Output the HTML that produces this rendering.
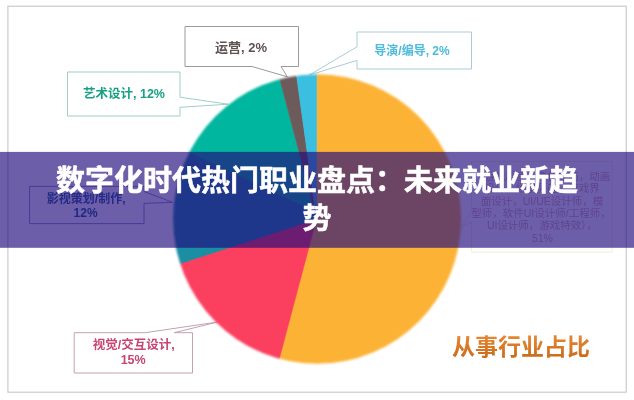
<!DOCTYPE html>
<html><head><meta charset="utf-8"><title>chart</title>
<style>html,body{margin:0;padding:0;background:#fff;font-family:"Liberation Sans",sans-serif}body{width:634px;height:400px;overflow:hidden}svg{display:block}.wrap{position:relative;width:634px;height:400px;overflow:hidden}svg text{font-family:"Liberation Sans","Noto Sans CJK SC",sans-serif}</style>
</head><body><div class="wrap"><svg width="634" height="400" viewBox="0 0 634 400"><defs><filter id="b1" x="-5%" y="-5%" width="110%" height="110%"><feGaussianBlur stdDeviation="0.6"/></filter><filter id="b2" x="-5%" y="-20%" width="110%" height="140%"><feGaussianBlur stdDeviation="0.45"/></filter><linearGradient id="og" x1="0" y1="0" x2="0" y2="1"><stop offset="0" stop-color="#e88a35"/><stop offset="1" stop-color="#c8691a"/></linearGradient><filter id="b3" x="-5%" y="-5%" width="110%" height="110%"><feGaussianBlur stdDeviation="1.1"/></filter><mask id="pm" maskUnits="userSpaceOnUse" x="0" y="0" width="634" height="400"><ellipse cx="317.1" cy="219.0" rx="144.0" ry="144.8" fill="#fff" filter="url(#b3)"/></mask></defs><rect width="634" height="400" fill="#fff"/><rect x="7.9" y="6.2" width="618.3" height="386" fill="none" stroke="#c6c6c6" stroke-width="1.1" filter="url(#b2)"/><g filter="url(#b2)"><path d="M185.0 26.5L298.5 26.5L298.5 66.5L281.0 66.5L287.3 76.8L252.0 66.5L185.0 66.5Z" fill="#fff" stroke="#9a9a9a" stroke-width="1" stroke-linejoin="miter"/><path d="M357.0 32.0L471.5 32.0L471.5 69.0L357.0 69.0L357.0 60.4L309.0 75.2L357.0 46.8Z" fill="#fff" stroke="#a9cbd8" stroke-width="1" stroke-linejoin="miter"/><path d="M67.5 72.0L180.0 72.0L180.0 97.2L228.2 104.2L180.0 107.3L180.0 116.0L67.5 116.0Z" fill="#fff" stroke="#9fcfc6" stroke-width="1" stroke-linejoin="miter"/><path d="M74.2 332.7L145.2 332.7L217.7 322.0L174.2 332.7L192.5 332.7L192.5 373.0L74.2 373.0Z" fill="#fff" stroke="#c4a0b2" stroke-width="1" stroke-linejoin="miter"/><path d="M29.6 186.4L144.0 186.4L144.0 191.5L172.5 202.3L144.0 203.4L144.0 223.6L29.6 223.6Z" fill="#fff" stroke="#8c96c8" stroke-width="1" stroke-linejoin="miter"/><path d="M471.6 161.6L612.0 161.6L612.0 252.2L471.6 252.2L471.6 222.0L461.4 226.5L471.6 211.0Z" fill="#fff" stroke="#f1efd6" stroke-width="1" stroke-linejoin="miter"/></g><g mask="url(#pm)"><g filter="url(#b1)"><path d="M316.5 219.0L316.50 70.20A148.0 148.8 0 1 1 278.29 362.59Z" fill="#fcb334" stroke="#fcb334" stroke-width="0.6"/><path d="M316.5 219.0L278.29 362.59A148.0 148.8 0 0 1 176.21 264.58Z" fill="#fb3f5e" stroke="#fb3f5e" stroke-width="0.6"/><path d="M316.5 219.0L176.21 264.58A148.0 148.8 0 0 1 185.55 150.83Z" fill="#1b8ea3" stroke="#1b8ea3" stroke-width="0.6"/><path d="M316.5 219.0L185.55 150.83A148.0 148.8 0 0 1 278.79 75.27Z" fill="#06b69e" stroke="#06b69e" stroke-width="0.6"/><path d="M316.5 219.0L278.79 75.27A148.0 148.8 0 0 1 296.06 71.71Z" fill="#6d5a5a" stroke="#6d5a5a" stroke-width="0.6"/><path d="M316.5 219.0L296.06 71.71A148.0 148.8 0 0 1 316.50 70.20Z" fill="#3bbfe0" stroke="#3bbfe0" stroke-width="0.6"/><path d="M316.5 219.0L176.21 264.58A148.0 148.8 0 0 1 185.55 150.83L316.5 212.5Z" fill="#1b8ea3" stroke="#1b8ea3" stroke-width="0.6"/></g></g><g filter="url(#b2)"><text x="241" y="52" font-size="13" font-weight="bold" text-anchor="middle" fill="#5e5252">运营, 2%</text><text x="412" y="55.2" font-size="12" font-weight="bold" text-anchor="middle" fill="#4dbbdb">导演/编导, 2%</text><text x="124" y="97.8" font-size="12.5" font-weight="bold" text-anchor="middle" fill="#17a085">艺术设计, 12%</text><text x="133.8" y="349.4" font-size="12.5" font-weight="bold" text-anchor="middle" fill="#c8446f">视觉/交互设计,</text><text x="133.2" y="364.3" font-size="12.5" font-weight="bold" text-anchor="middle" fill="#c8446f">15%</text><text x="86.2" y="203.3" font-size="12" font-weight="bold" text-anchor="middle" fill="#2a6a98">影视策划/制作,</text><text x="85.6" y="216.7" font-size="12" font-weight="bold" text-anchor="middle" fill="#1d5f8f">12%</text><g opacity="0.95" font-size="10.5" text-anchor="middle" fill="#cfb0a8"><text x="542" y="179.6">（游戏原画，角色原画，动画</text><text x="542" y="192">设计，场景原画，游戏界</text><text x="542" y="204.5">面设计，UI/UE设计师，模</text><text x="541" y="217">型师，软件UI设计师/工程师，</text><text x="542" y="229.3">UI设计师，游戏特效），</text><text x="542.4" y="242.3">51%</text></g></g><g filter="url(#b2)"><text x="521" y="354.5" font-size="23" font-weight="bold" text-anchor="middle" fill="url(#og)">从事行业占比</text></g><rect x="0" y="151.9" width="634" height="95.9" fill="rgb(34,11,125)" fill-opacity="0.66"/><text x="317" y="191" font-size="29" font-weight="bold" text-anchor="middle" fill="#fff" stroke="#fff" stroke-width="0.5" stroke-linejoin="round">数字化时代热门职业盘点：未来就业新趋</text><text x="317" y="229" font-size="29" font-weight="bold" text-anchor="middle" fill="#fff" stroke="#fff" stroke-width="0.5" stroke-linejoin="round">势</text></svg>
</div></body></html>
